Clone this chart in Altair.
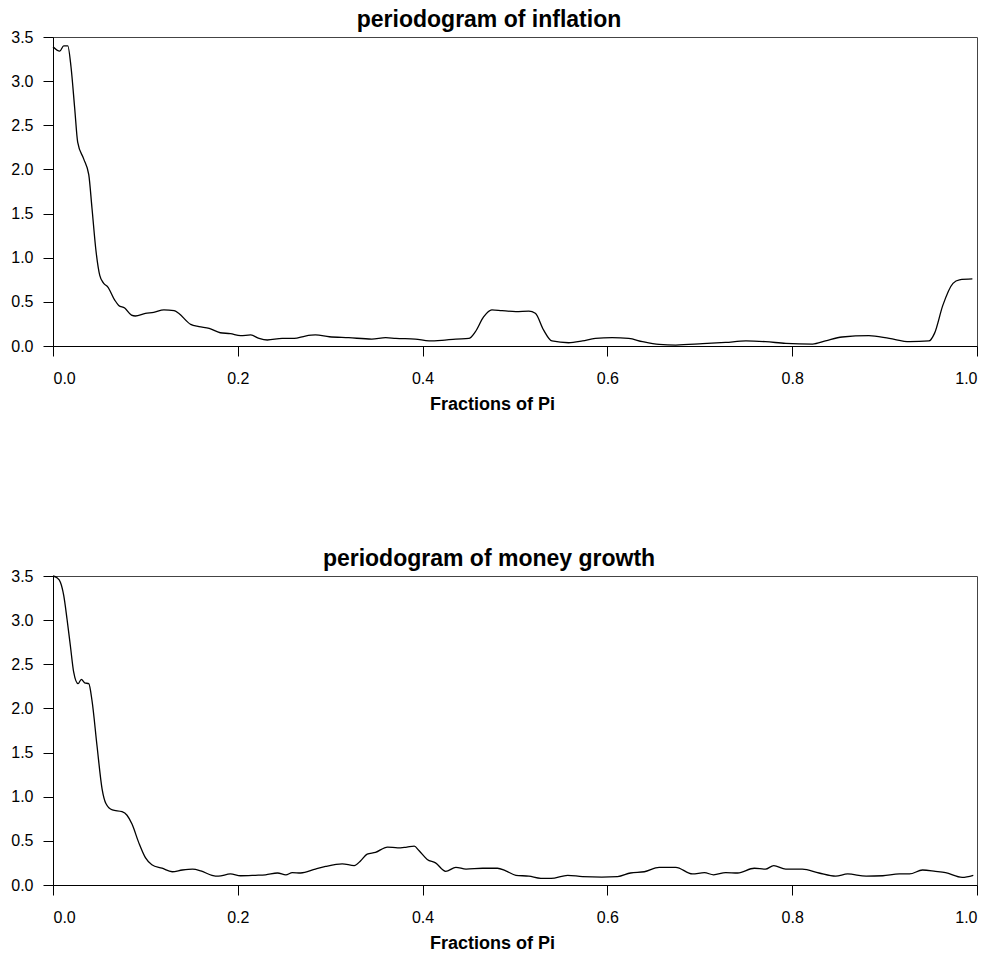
import altair as alt
import pandas as pd

# periodogram of inflation: frequency (fractions of pi) and value
infl_freq = [0.0, 0.0073, 0.0116, 0.016, 0.0195, 0.0235, 0.0267, 0.0332, 0.0387, 0.0422,
             0.0466, 0.0506, 0.0549, 0.0592, 0.0668, 0.0711, 0.0776, 0.0849, 0.0892, 0.100,
             0.109, 0.120, 0.131, 0.136, 0.149, 0.158, 0.169, 0.181, 0.192, 0.203,
             0.214, 0.223, 0.232, 0.248, 0.261, 0.273, 0.284, 0.299, 0.320, 0.345,
             0.360, 0.371, 0.392, 0.407, 0.421, 0.436, 0.450, 0.457, 0.466, 0.475,
             0.486, 0.501, 0.515, 0.522, 0.531, 0.540, 0.558, 0.573, 0.587, 0.605,
             0.623, 0.638, 0.656, 0.674, 0.703, 0.728, 0.750, 0.771, 0.793, 0.822,
             0.836, 0.854, 0.883, 0.905, 0.927, 0.948, 0.954, 0.963, 0.974, 0.981, 0.995]
infl_power = [3.39, 3.34, 3.40, 3.40, 3.16, 2.69, 2.31, 2.12, 1.94, 1.56,
              1.07, 0.80, 0.71, 0.67, 0.52, 0.46, 0.43, 0.35, 0.34, 0.37,
              0.38, 0.41, 0.40, 0.37, 0.245, 0.22, 0.20, 0.15, 0.14, 0.117,
              0.125, 0.086, 0.068, 0.086, 0.086, 0.113, 0.125, 0.105, 0.094, 0.079,
              0.094, 0.086, 0.079, 0.057, 0.064, 0.079, 0.086, 0.16, 0.33, 0.41,
              0.40, 0.39, 0.395, 0.37, 0.18, 0.057, 0.037, 0.057, 0.086, 0.094,
              0.086, 0.049, 0.018, 0.011, 0.026, 0.041, 0.057, 0.049, 0.03, 0.022,
              0.057, 0.102, 0.117, 0.086, 0.049, 0.057, 0.143, 0.46, 0.71, 0.75, 0.76]

# periodogram of money growth
money_freq = [0.0, 0.0043, 0.008, 0.0116, 0.0152, 0.0188, 0.0224, 0.0271, 0.0307, 0.0343,
              0.0387, 0.0422, 0.0476, 0.0531, 0.0574, 0.0642, 0.0747, 0.0801, 0.0855, 0.0928,
              0.100, 0.107, 0.118, 0.129, 0.140, 0.151, 0.160, 0.172, 0.179, 0.192,
              0.203, 0.219, 0.230, 0.243, 0.252, 0.259, 0.268, 0.284, 0.295, 0.313,
              0.326, 0.333, 0.340, 0.349, 0.362, 0.373, 0.383, 0.391, 0.396, 0.405,
              0.414, 0.425, 0.436, 0.447, 0.465, 0.481, 0.490, 0.501, 0.515, 0.528,
              0.539, 0.557, 0.573, 0.594, 0.611, 0.625, 0.640, 0.656, 0.674, 0.692,
              0.705, 0.715, 0.728, 0.741, 0.759, 0.771, 0.780, 0.793, 0.811, 0.829,
              0.847, 0.860, 0.880, 0.898, 0.916, 0.927, 0.941, 0.955, 0.966, 0.984, 0.996]
money_power = [3.50, 3.48, 3.43, 3.28, 3.01, 2.71, 2.41, 2.28, 2.33, 2.29,
               2.28, 2.09, 1.58, 1.09, 0.92, 0.85, 0.83, 0.79, 0.69, 0.48,
               0.31, 0.23, 0.19, 0.15, 0.17, 0.18, 0.16, 0.11, 0.10, 0.125,
               0.105, 0.11, 0.115, 0.136, 0.115, 0.14, 0.136, 0.18, 0.21, 0.24,
               0.22, 0.275, 0.35, 0.37, 0.43, 0.42, 0.43, 0.44, 0.39, 0.29,
               0.25, 0.155, 0.20, 0.18, 0.19, 0.19, 0.16, 0.11, 0.10, 0.075,
               0.075, 0.11, 0.095, 0.09, 0.095, 0.136, 0.15, 0.20, 0.20, 0.125,
               0.14, 0.115, 0.14, 0.136, 0.19, 0.18, 0.22, 0.18, 0.18, 0.136,
               0.10, 0.125, 0.10, 0.105, 0.125, 0.125, 0.17, 0.155, 0.14, 0.087, 0.11]

x_ticks = [0.0, 0.2, 0.4, 0.6, 0.8, 1.0]
y_ticks = [0.0, 0.5, 1.0, 1.5, 2.0, 2.5, 3.0, 3.5]

FONT = "Liberation Sans"


def panel(freq, power, title):
    df = pd.DataFrame({"freq": freq, "power": power})
    return alt.Chart(df).mark_line(
        color="black", strokeWidth=1.3, interpolate="monotone"
    ).encode(
        x=alt.X("freq:Q",
                scale=alt.Scale(domain=[0, 1], nice=False, zero=False),
                axis=alt.Axis(values=x_ticks, format=".1f", title="Fractions of Pi",
                              titleX=439, titlePadding=9)),
        y=alt.Y("power:Q",
                scale=alt.Scale(domain=[0, 3.5], nice=False),
                axis=alt.Axis(values=y_ticks, format=".1f", title=None, labelPadding=10)),
    ).properties(
        width=924, height=309,
        title=alt.TitleParams(title, fontSize=23, fontWeight="bold", font=FONT,
                              color="black", dx=-26, offset=-3),
    )


top = panel(infl_freq, infl_power, "periodogram of inflation")
bottom = panel(money_freq, money_power, "periodogram of money growth")

chart = alt.vconcat(top, bottom, spacing=133).properties(
    padding={"left": 2, "top": 0, "right": 5, "bottom": 5}
).configure_view(
    stroke="#444", strokeWidth=1
).configure_axis(
    grid=False, domainColor="black", domainWidth=1, tickColor="black", tickWidth=1,
    tickSize=10, labelFont=FONT, labelFontSize=16, labelColor="black",
    titleFont=FONT, titleFontSize=18, titleFontWeight="bold", titleColor="black",
).configure_axisX(
    labelPadding=14
)

chart.save("out.html", embed_options={"renderer": "svg", "actions": False})
